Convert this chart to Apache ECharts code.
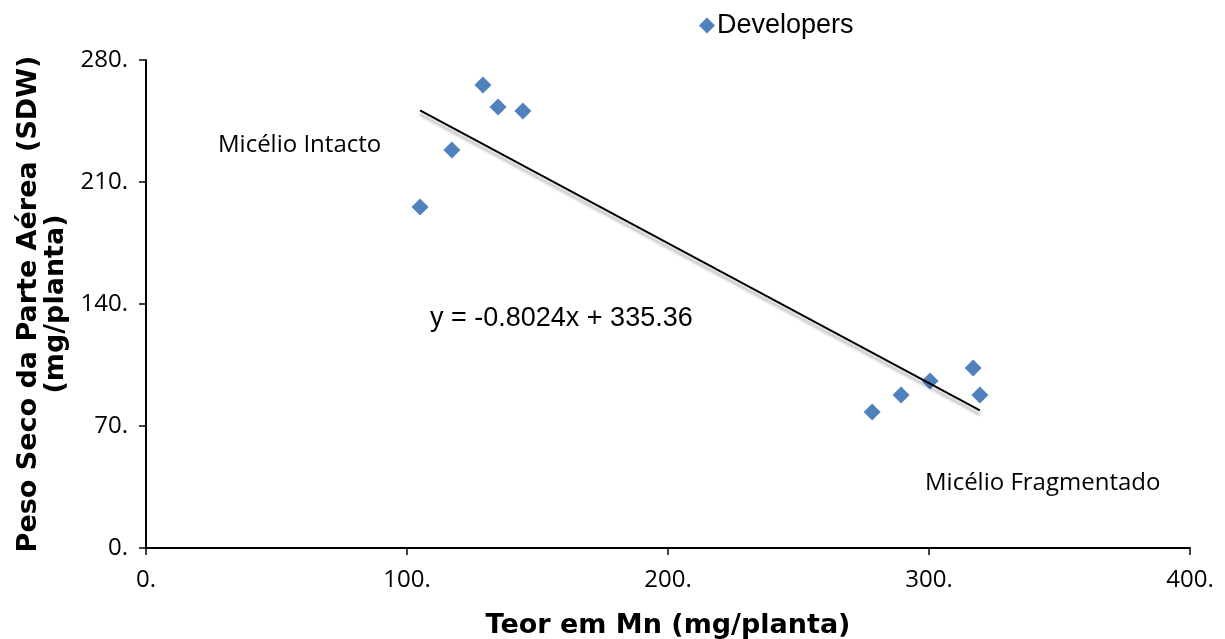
<!DOCTYPE html>
<html><head><meta charset="utf-8">
<script src="https://cdn.jsdelivr.net/npm/echarts@6/dist/echarts.min.js"></script>
<style>html,body{margin:0;padding:0;background:#fff}#c{width:1225px;height:639px}</style>
</head><body><div id="c"></div>
<script>
const seriesName = 'Developers';
const mnValues = [105.0, 117.2, 129.1, 134.9, 144.4, 278.2, 289.3, 300.4, 316.9, 319.5];
const sdwValues = [195.6, 228.3, 265.6, 253.0, 250.7, 78.0, 87.8, 95.8, 103.3, 87.8];
const trendX = [105.0, 319.5];
const trendY = [251.1, 79.0];
const xTicks = [0, 100, 200, 300, 400];
const yTicks = [0, 70, 140, 210, 280];
const equationText = 'y = -0.8024x + 335.36';
const labelIntact = 'Micélio Intacto';
const labelFrag = 'Micélio Fragmentado';
const xTitle = 'Teor em Mn (mg/planta)';
const yTitle = 'Peso Seco da Parte Aérea (SDW)\n(mg/planta)';

const chart = echarts.init(document.getElementById('c'));
const axisFont = {fontFamily: 'Open Sans', fontSize: 24, color: '#000'};
chart.setOption({
  animation: false,
  grid: {left: 146, right: 35, top: 60, bottom: 91, outerBoundsMode: 'none', containLabel: false},
  legend: {
    data: [{name: seriesName, icon: 'diamond', itemStyle: {opacity: 1}}],
    top: 7, left: 694, itemWidth: 16, itemHeight: 16, itemGap: 4,
    textStyle: {fontFamily: 'Liberation Sans', fontSize: 27, color: '#000', padding: [0, 0, 0, -3]}
  },
  xAxis: {
    type: 'value', min: 0, max: 400, interval: 100,
    axisLine: {lineStyle: {color: '#000', width: 2}},
    axisTick: {show: true, length: 7, lineStyle: {color: '#000', width: 1.5}},
    splitLine: {show: false},
    axisLabel: Object.assign({margin: 20, formatter: v => v + '.'}, axisFont),
    name: xTitle, nameLocation: 'middle', nameGap: 64,
    nameTextStyle: {fontFamily: 'DejaVu Sans', fontWeight: 'bold', fontSize: 27, color: '#000'}
  },
  yAxis: {
    type: 'value', min: 0, max: 280, interval: 70,
    axisLine: {show: true, lineStyle: {color: '#000', width: 2}},
    axisTick: {show: true, length: 7, lineStyle: {color: '#000', width: 1.5}},
    splitLine: {show: false},
    axisLabel: Object.assign({margin: 18, formatter: v => v + '.'}, axisFont),
    name: yTitle, nameLocation: 'middle', nameGap: 74, nameRotate: 90,
    nameTextStyle: {fontFamily: 'DejaVu Sans', fontWeight: 'bold', fontSize: 27, color: '#000', lineHeight: 27, align: 'center'}
  },
  series: [
    {
      name: seriesName, type: 'scatter', symbol: 'diamond', symbolSize: 17,
      itemStyle: {color: '#4F81BD', opacity: 1}, z: 3,
      data: mnValues.map((x, i) => [x, sdwValues[i]])
    },
    {
      name: 'trend', type: 'line', symbol: 'none', silent: true, z: 4,
      lineStyle: {color: '#000', width: 2, shadowColor: 'rgba(0,0,0,0.35)', shadowBlur: 3, shadowOffsetY: 4, shadowOffsetX: 0},
      data: trendX.map((x, i) => [x, trendY[i]])
    }
  ],
  graphic: [
    {type: 'text', left: 218, top: 133, style: {text: labelIntact, font: '24px "Open Sans"', fill: '#000'}},
    {type: 'text', left: 925, top: 471, style: {text: labelFrag, font: '24px "Open Sans"', fill: '#000'}},
    {type: 'text', left: 430, top: 305, style: {text: equationText, font: '27px "Liberation Sans"', fill: '#000'}}
  ]
});
</script></body></html>
